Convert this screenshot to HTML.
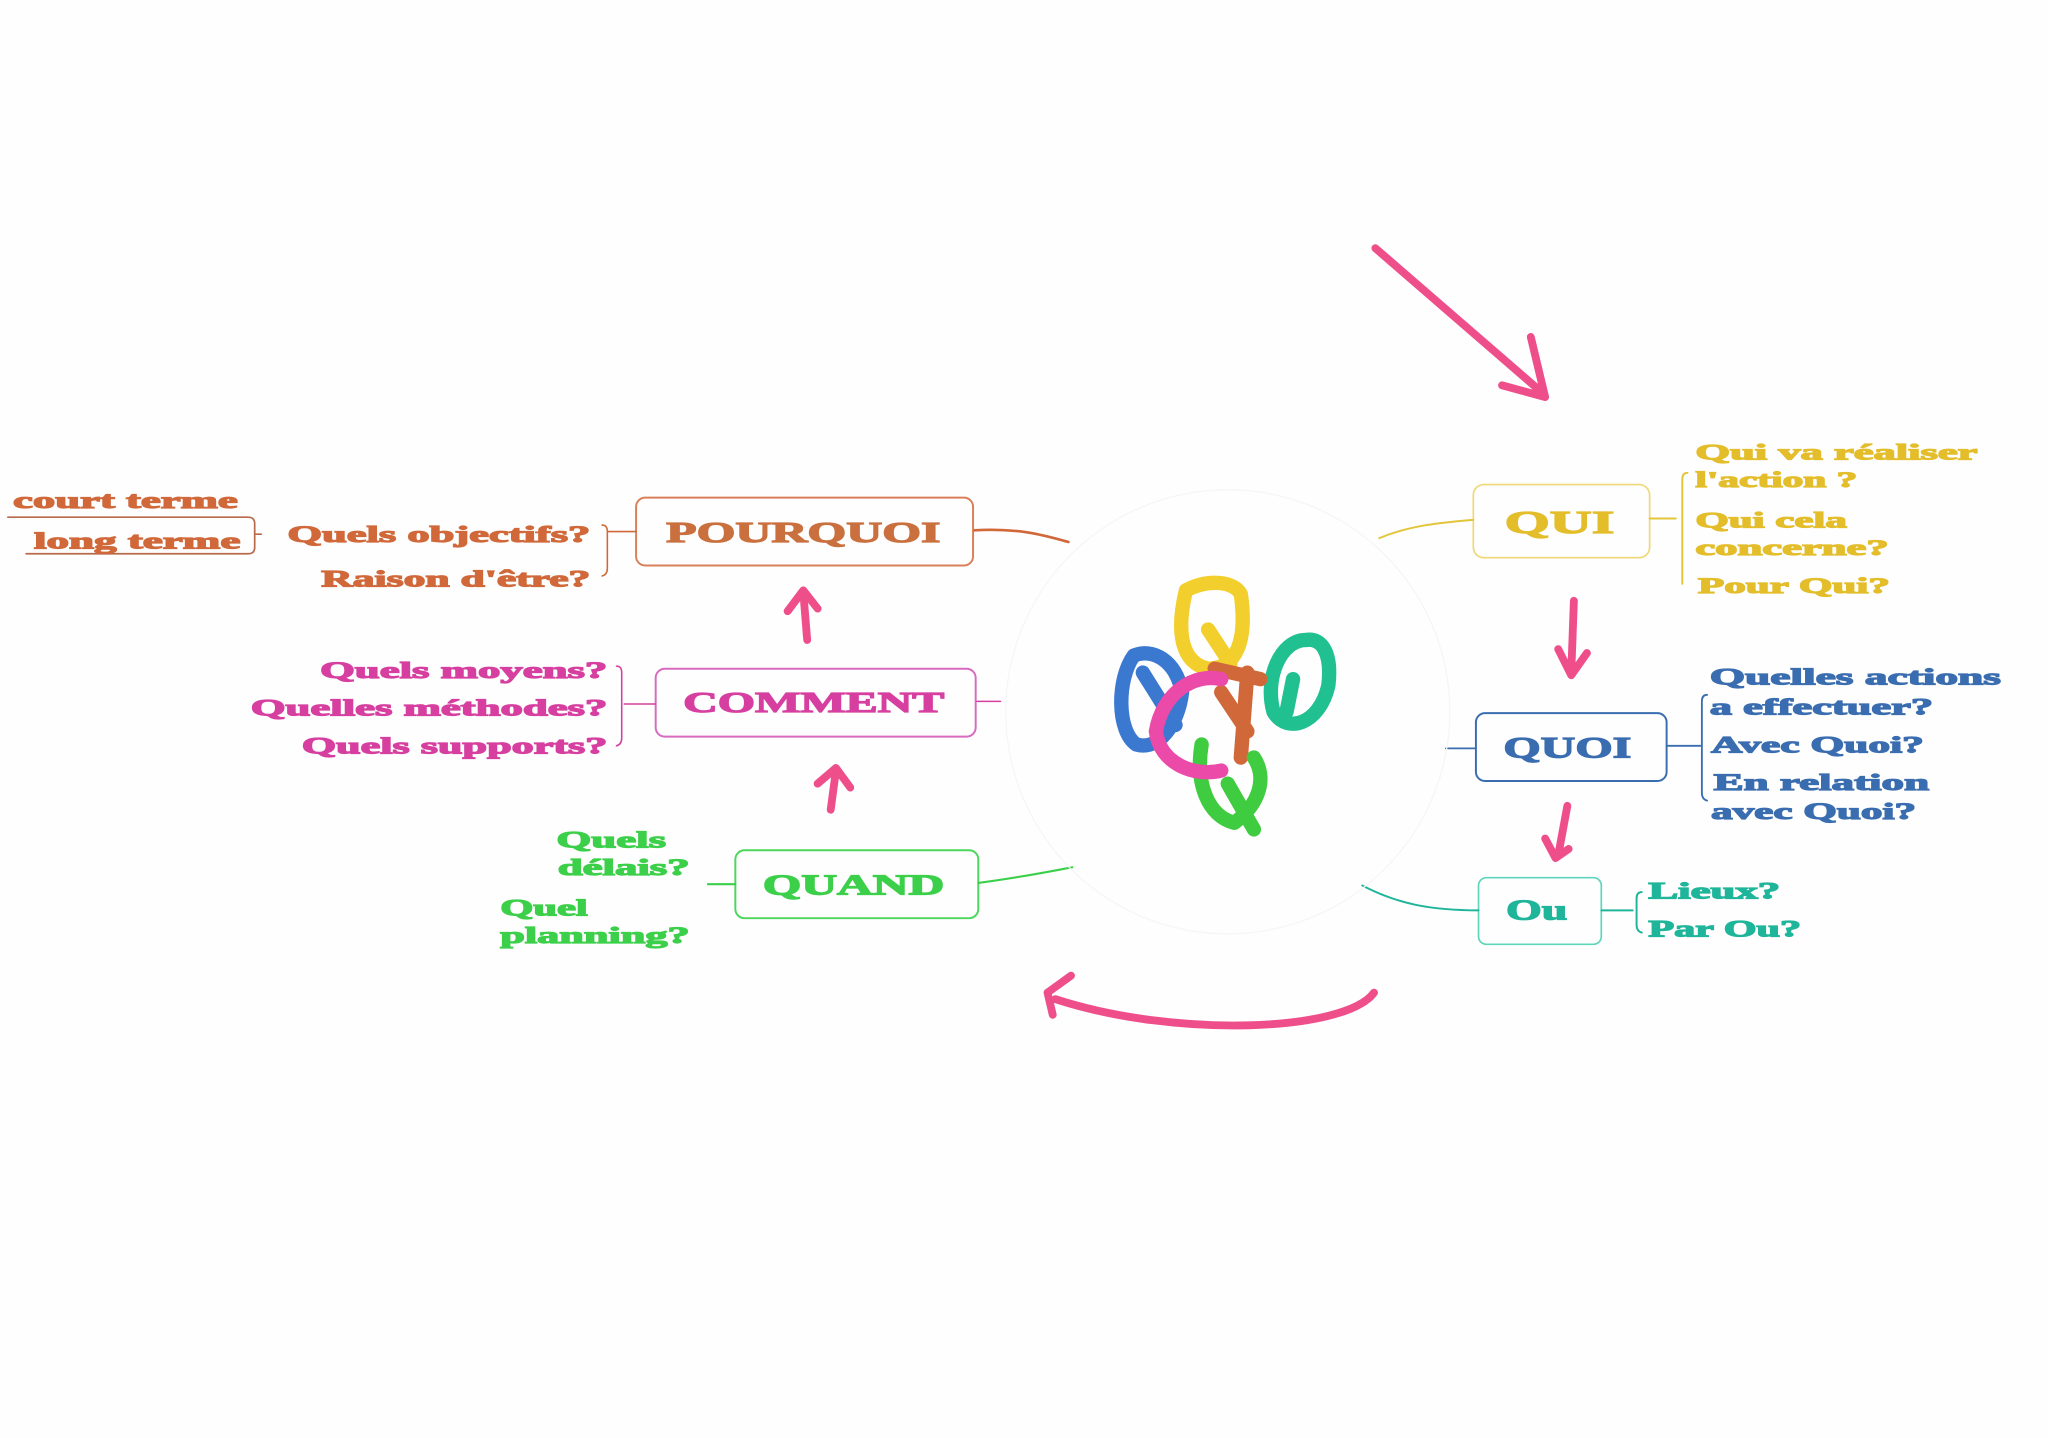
<!DOCTYPE html>
<html><head><meta charset="utf-8"><style>
html,body{margin:0;padding:0;background:#fefefe;}
svg{display:block;}
text{font-family:"Liberation Serif",serif;font-weight:bold;}
</style></head><body>
<svg width="2048" height="1438" viewBox="0 0 1568 1101" preserveAspectRatio="none" xmlns="http://www.w3.org/2000/svg">
<rect width="1568" height="1101" fill="#fefefe"/>
<g fill="none" stroke-linecap="round">
<rect x="487" y="381" width="258" height="52" rx="7" stroke="#d9805a" stroke-width="1.5"/>
<path d="M746 406 C780 404 800 410 818 415" stroke="#d0683a" stroke-width="2"/>
<path d="M487 407 H466 M461 402 q4 0 4 5 v28 q0 5 -4 6" stroke="#d0683a" stroke-width="1.2"/>
<path d="M6 396 H190 q5 0 5 5 v18 q0 5 -5 5 H20 M195 409 H200" stroke="#b86a4a" stroke-width="1.3"/>
<rect x="502" y="512" width="245" height="52" rx="7" stroke="#d86ac0" stroke-width="1.5"/>
<path d="M748 537 H766 M502 539 H478 M472 510 q4 0 4 5 v50 q0 5 -4 6" stroke="#d63fa0" stroke-width="1.2"/>
<rect x="563" y="651" width="186" height="52" rx="7" stroke="#4dd65c" stroke-width="1.5"/>
<path d="M749 676 C780 672 800 668 821 664 M563 677 H542" stroke="#3ccf4a" stroke-width="1.6"/>
<rect x="1128" y="371" width="135" height="56" rx="8" stroke="#f0d878" stroke-width="1.3"/>
<path d="M1056 412 C1080 402 1105 400 1128 398 M1263 397 H1283 M1292 362 q-4 0 -4 5 v80" stroke="#e3c53a" stroke-width="1.5"/>
<rect x="1130" y="546" width="146" height="52" rx="7" stroke="#3a6db0" stroke-width="1.5"/>
<path d="M1107 573 H1130 M1276 571 H1302 M1307 532 q-4 0 -4 5 v70 q0 5 4 6" stroke="#3a6db0" stroke-width="1.4"/>
<rect x="1132" y="672" width="94" height="51" rx="6" stroke="#5fd6bc" stroke-width="1.3"/>
<path d="M1043 678 C1070 692 1095 697 1132 697 M1226 697 H1250 M1257 683 q-4 0 -4 5 v20 q0 5 4 6" stroke="#1fb59a" stroke-width="1.5"/>
<ellipse cx="940" cy="545" rx="170" ry="170" stroke="#f6f6f6" stroke-width="1"/>
<g stroke="#ee4f8a" stroke-width="6" stroke-linejoin="round">
<path d="M1053 190 L1180 300 M1150 295 L1183 304 L1172 258"/>
<path d="M618 490 L615 453 M603 468 L615 452 L626 466"/>
<path d="M636 620 L640 590 M626 600 L640 588 L651 603"/>
<path d="M1205 460 L1203 515 M1193 497 L1203 517 L1215 500"/>
<path d="M1200 617 L1193 655 M1183 642 L1191 657 L1201 650"/>
<path d="M1052 760 C1030 790 900 795 808 765 M820 747 L802 760 L806 777"/>
</g>
<g stroke-width="11" stroke-linejoin="round">
<path d="M908 452 C900 485 905 508 925 512 C947 512 955 490 950 455 C945 445 925 443 908 452 Z M925 482 L942 508" stroke="#f2cf2c"/>
<path d="M868 502 C855 520 855 560 870 570 C887 575 902 555 905 530 C900 505 882 496 868 502 Z M875 515 L900 555" stroke="#3b78d0"/>
<path d="M1000 490 C980 490 968 520 975 545 C985 562 1010 555 1017 525 C1020 500 1012 488 1000 490 Z M990 520 L985 545" stroke="#20c090"/>
<path d="M935 530 L955 560 M930 512 L965 520 M955 515 L950 580" stroke="#d0683a"/>
<path d="M920 570 C915 600 925 625 945 630 C965 615 970 595 960 580 M940 600 L960 635" stroke="#40cc40"/>
<path d="M935 520 C915 515 890 530 885 560 C888 585 915 595 935 590" stroke="#ec4aa8"/>
</g>
</g>
<g stroke-width="0.9" lengthAdjust="spacingAndGlyphs">
<text x="510" y="415" font-size="22" fill="#c9703e" stroke="#c9703e" textLength="210" lengthAdjust="spacingAndGlyphs">POURQUOI</text>
<text x="523" y="545" font-size="22" fill="#d63fa0" stroke="#d63fa0" textLength="200" lengthAdjust="spacingAndGlyphs">COMMENT</text>
<text x="584" y="685" font-size="22" fill="#3ccf4a" stroke="#3ccf4a" textLength="139" lengthAdjust="spacingAndGlyphs">QUAND</text>
<text x="1152" y="408" font-size="24" fill="#e3bd2a" stroke="#e3bd2a" textLength="84" lengthAdjust="spacingAndGlyphs">QUI</text>
<text x="1151" y="580" font-size="23" fill="#3a6db0" stroke="#3a6db0" textLength="98" lengthAdjust="spacingAndGlyphs">QUOI</text>
<text x="1153" y="704" font-size="22" fill="#1fb59a" stroke="#1fb59a" textLength="47" lengthAdjust="spacingAndGlyphs">Ou</text>

<g font-size="18" fill="#d0683a" stroke="#d0683a">
<text x="10" y="389" textLength="172" lengthAdjust="spacingAndGlyphs">court terme</text>
<text x="26" y="420" textLength="158" lengthAdjust="spacingAndGlyphs">long terme</text>
<text x="220" y="415" textLength="232" lengthAdjust="spacingAndGlyphs">Quels objectifs?</text>
<text x="246" y="449" textLength="206" lengthAdjust="spacingAndGlyphs">Raison d'être?</text>
</g>
<g font-size="18" fill="#d63fa0" stroke="#d63fa0">
<text x="245" y="519" textLength="220" lengthAdjust="spacingAndGlyphs">Quels moyens?</text>
<text x="192" y="548" textLength="273" lengthAdjust="spacingAndGlyphs">Quelles méthodes?</text>
<text x="231" y="577" textLength="234" lengthAdjust="spacingAndGlyphs">Quels supports?</text>
</g>
<g font-size="18" fill="#3ccf4a" stroke="#3ccf4a">
<text x="426" y="649" textLength="84" lengthAdjust="spacingAndGlyphs">Quels</text>
<text x="427" y="670" textLength="101" lengthAdjust="spacingAndGlyphs">délais?</text>
<text x="383" y="701" textLength="67" lengthAdjust="spacingAndGlyphs">Quel</text>
<text x="383" y="722" textLength="145" lengthAdjust="spacingAndGlyphs">planning?</text>
</g>
<g font-size="17" fill="#e3bd2a" stroke="#e3bd2a">
<text x="1298" y="352" textLength="216" lengthAdjust="spacingAndGlyphs">Qui va réaliser</text>
<text x="1298" y="373" textLength="124" lengthAdjust="spacingAndGlyphs">l'action ?</text>
<text x="1298" y="404" textLength="116" lengthAdjust="spacingAndGlyphs">Qui cela</text>
<text x="1298" y="425" textLength="148" lengthAdjust="spacingAndGlyphs">concerne?</text>
<text x="1300" y="454" textLength="147" lengthAdjust="spacingAndGlyphs">Pour Qui?</text>
</g>
<g font-size="18" fill="#3a6db0" stroke="#3a6db0">
<text x="1309" y="524" textLength="223" lengthAdjust="spacingAndGlyphs">Quelles actions</text>
<text x="1309" y="547" textLength="171" lengthAdjust="spacingAndGlyphs">a effectuer?</text>
<text x="1310" y="576" textLength="163" lengthAdjust="spacingAndGlyphs">Avec Quoi?</text>
<text x="1312" y="605" textLength="165" lengthAdjust="spacingAndGlyphs">En relation</text>
<text x="1310" y="627" textLength="157" lengthAdjust="spacingAndGlyphs">avec Quoi?</text>
</g>
<g font-size="18" fill="#1fb59a" stroke="#1fb59a">
<text x="1262" y="688" textLength="101" lengthAdjust="spacingAndGlyphs">Lieux?</text>
<text x="1262" y="717" textLength="117" lengthAdjust="spacingAndGlyphs">Par Ou?</text>
</g>
</g>
</svg>
</body></html>
